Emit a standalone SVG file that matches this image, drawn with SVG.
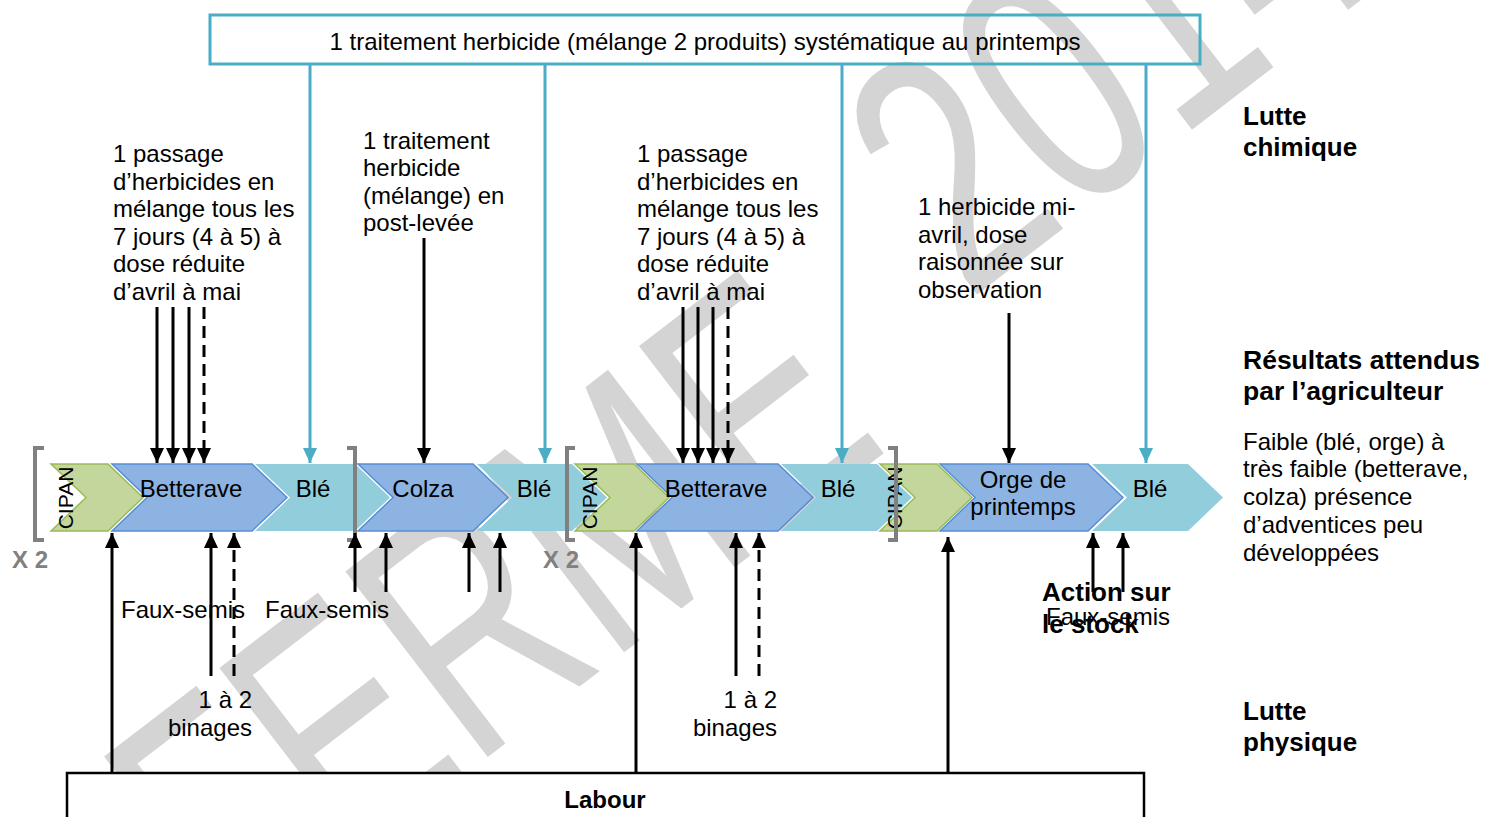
<svg xmlns="http://www.w3.org/2000/svg" width="1486" height="817" viewBox="0 0 1486 817">
<style>
text{font-family:"Liberation Sans",Arial,sans-serif;fill:#000}
.t{font-size:24px}
.b{font-size:26px;font-weight:bold}
.x2{font-size:24px;font-weight:bold;fill:#808080}
.cip{font-size:21px}
.blk{stroke:#000;stroke-width:3;fill:none}
.dash{stroke-dasharray:12 7}
.teal{stroke:#4bacc6;stroke-width:3;fill:none}
.ble{fill:#92cddc}
.bl{fill:#8db3e2;stroke:#558ed5;stroke-width:1.5}
.gr{fill:#c3d69b;stroke:#9bbb59;stroke-width:1.5}
.br{stroke:#808080;stroke-width:4;fill:none}
.wm{font-size:340px;fill:#d4d4d4}
</style>
<defs>
<marker id="ah" markerUnits="userSpaceOnUse" markerWidth="16" markerHeight="16" refX="15" refY="8" orient="auto"><path d="M0,1 L15,8 L0,15 z" fill="#000"/></marker>
<marker id="aht" markerUnits="userSpaceOnUse" markerWidth="16" markerHeight="16" refX="15" refY="8" orient="auto"><path d="M0,1 L15,8 L0,15 z" fill="#4bacc6"/></marker>
</defs>
<rect width="1486" height="817" fill="#fff"/>
<g id="watermark">
<text class="wm" transform="translate(231,954) rotate(-37.5) scale(0.7,1)">FERME<tspan dx="212" dy="-69">2014</tspan></text>
</g>
<g id="top-box">
<rect x="210" y="15" width="990" height="49" fill="none" stroke="#4bacc6" stroke-width="3"/>
<text class="t" x="705" y="50" text-anchor="middle">1 traitement herbicide (mélange 2 produits) systématique au printemps</text>
</g>
<g id="rotation">
<polygon class="gr" points="51,464 108,464 143,497.5 108,531 51,531 86,497.5"/>
<polygon class="bl" points="112,464 252,464 287,497.5 252,531 112,531 147,497.5"/>
<polygon class="ble" points="255,464 355,464 390,497.5 355,531 255,531 290,497.5"/>
<polygon class="bl" points="358,464 473,464 508,497.5 473,531 358,531 393,497.5"/>
<polygon class="ble" points="477,464 572,464 607,497.5 572,531 477,531 512,497.5"/>
<polygon class="gr" points="575,464 634,464 669,497.5 634,531 575,531 610,497.5"/>
<polygon class="bl" points="637,464 778,464 813,497.5 778,531 637,531 672,497.5"/>
<polygon class="ble" points="781,464 877,464 912,497.5 877,531 781,531 816,497.5"/>
<polygon class="gr" points="880,464 937,464 972,497.5 937,531 880,531 915,497.5"/>
<polygon class="bl" points="940,464 1088,464 1123,497.5 1088,531 940,531 975,497.5"/>
<polygon class="ble" points="1092,464 1188,464 1223,497.5 1188,531 1092,531 1127,497.5"/>
<text class="cip" transform="translate(73,498) rotate(-90)" text-anchor="middle">CIPAN</text>
<text class="cip" transform="translate(597,498) rotate(-90)" text-anchor="middle">CIPAN</text>
<text class="cip" transform="translate(902,498) rotate(-90)" text-anchor="middle">CIPAN</text>
<text class="t" x="191" y="497" text-anchor="middle">Betterave</text>
<text class="t" x="313" y="497" text-anchor="middle">Blé</text>
<text class="t" x="423" y="497" text-anchor="middle">Colza</text>
<text class="t" x="534" y="497" text-anchor="middle">Blé</text>
<text class="t" x="716" y="497" text-anchor="middle">Betterave</text>
<text class="t" x="838" y="497" text-anchor="middle">Blé</text>
<text class="t" x="1023" y="488" text-anchor="middle">Orge de</text>
<text class="t" x="1023" y="515" text-anchor="middle">printemps</text>
<text class="t" x="1150" y="497" text-anchor="middle">Blé</text>
</g>
<g id="brackets">
<path class="br" d="M44,448 H35 V540 H44"/>
<path class="br" d="M347,448 H355 V540 H347"/>
<path class="br" d="M575,448 H567 V540 H575"/>
<path class="br" d="M888,448 H896 V540 H888"/>
<text class="x2" x="12" y="568">X 2</text>
<text class="x2" x="543" y="568">X 2</text>
</g>
<g id="connectors">
<line class="teal" x1="310" y1="65" x2="310" y2="463" marker-end="url(#aht)"/>
<line class="teal" x1="545" y1="65" x2="545" y2="463" marker-end="url(#aht)"/>
<line class="teal" x1="842" y1="65" x2="842" y2="463" marker-end="url(#aht)"/>
<line class="teal" x1="1146" y1="65" x2="1146" y2="463" marker-end="url(#aht)"/>
<line class="blk" x1="157" y1="307" x2="157" y2="463" marker-end="url(#ah)"/>
<line class="blk" x1="173" y1="307" x2="173" y2="463" marker-end="url(#ah)"/>
<line class="blk" x1="189" y1="307" x2="189" y2="463" marker-end="url(#ah)"/>
<line class="blk dash" x1="204" y1="307" x2="204" y2="463" marker-end="url(#ah)"/>
<line class="blk" x1="424" y1="238" x2="424" y2="463" marker-end="url(#ah)"/>
<line class="blk" x1="683" y1="307" x2="683" y2="463" marker-end="url(#ah)"/>
<line class="blk" x1="698" y1="307" x2="698" y2="463" marker-end="url(#ah)"/>
<line class="blk" x1="713" y1="307" x2="713" y2="463" marker-end="url(#ah)"/>
<line class="blk dash" x1="728" y1="307" x2="728" y2="463" marker-end="url(#ah)"/>
<line class="blk" x1="1009" y1="313" x2="1009" y2="463" marker-end="url(#ah)"/>
<line class="blk" x1="112" y1="773" x2="112" y2="533" marker-end="url(#ah)"/>
<line class="blk" x1="211" y1="676" x2="211" y2="533" marker-end="url(#ah)"/>
<line class="blk dash" x1="234" y1="676" x2="234" y2="533" marker-end="url(#ah)"/>
<line class="blk" x1="355" y1="592" x2="355" y2="533" marker-end="url(#ah)"/>
<line class="blk" x1="386" y1="592" x2="386" y2="533" marker-end="url(#ah)"/>
<line class="blk" x1="469" y1="592" x2="469" y2="533" marker-end="url(#ah)"/>
<line class="blk" x1="500" y1="592" x2="500" y2="533" marker-end="url(#ah)"/>
<line class="blk" x1="636" y1="773" x2="636" y2="533" marker-end="url(#ah)"/>
<line class="blk" x1="736" y1="676" x2="736" y2="533" marker-end="url(#ah)"/>
<line class="blk dash" x1="759" y1="676" x2="759" y2="533" marker-end="url(#ah)"/>
<line class="blk" x1="948" y1="773" x2="948" y2="537" marker-end="url(#ah)"/>
<line class="blk" x1="1093" y1="592" x2="1093" y2="533" marker-end="url(#ah)"/>
<line class="blk" x1="1123" y1="592" x2="1123" y2="533" marker-end="url(#ah)"/>
</g>
<g id="label-betterave1">
<text class="t" x="113" y="162">1 passage</text>
<text class="t" x="113" y="189.6">d’herbicides en</text>
<text class="t" x="113" y="217.2">mélange tous les</text>
<text class="t" x="113" y="244.8">7 jours (4 à 5) à</text>
<text class="t" x="113" y="272.4">dose réduite</text>
<text class="t" x="113" y="300">d’avril à mai</text>
</g>
<g id="label-colza">
<text class="t" x="363" y="149">1 traitement</text>
<text class="t" x="363" y="176">herbicide</text>
<text class="t" x="363" y="204">(mélange) en</text>
<text class="t" x="363" y="231">post-levée</text>
</g>
<g id="label-betterave2">
<text class="t" x="637" y="162">1 passage</text>
<text class="t" x="637" y="189.6">d’herbicides en</text>
<text class="t" x="637" y="217.2">mélange tous les</text>
<text class="t" x="637" y="244.8">7 jours (4 à 5) à</text>
<text class="t" x="637" y="272.4">dose réduite</text>
<text class="t" x="637" y="300">d’avril à mai</text>
</g>
<g id="label-orge">
<text class="t" x="918" y="215">1 herbicide mi-</text>
<text class="t" x="918" y="243">avril, dose</text>
<text class="t" x="918" y="270">raisonnée sur</text>
<text class="t" x="918" y="298">observation</text>
</g>
<g id="labels-bottom">
<text class="t" x="121" y="618">Faux-semis</text>
<text class="t" x="265" y="618">Faux-semis</text>
<text class="t" x="252" y="708" text-anchor="end">1 à 2</text>
<text class="t" x="252" y="736" text-anchor="end">binages</text>
<text class="t" x="777" y="708" text-anchor="end">1 à 2</text>
<text class="t" x="777" y="736" text-anchor="end">binages</text>
<text class="t" x="1046" y="625">Faux-semis</text>
<text class="b" x="1042" y="601">Action sur</text>
<text class="b" x="1042" y="633">le stock</text>
</g>
<g id="labour">
<rect x="67" y="773" width="1077" height="60" fill="#fff" stroke="#000" stroke-width="2.5"/>
<text x="605" y="808" text-anchor="middle" style="font-size:24px;font-weight:bold">Labour</text>
</g>
<g id="legend">
<text class="b" x="1243" y="125">Lutte</text>
<text class="b" x="1243" y="156">chimique</text>
<text class="b" x="1243" y="369" style="font-size:26.5px">Résultats attendus</text>
<text class="b" x="1243" y="400" style="font-size:26.5px">par l’agriculteur</text>
<text class="t" x="1243" y="450">Faible (blé, orge) à</text>
<text class="t" x="1243" y="477">très faible (betterave,</text>
<text class="t" x="1243" y="505">colza) présence</text>
<text class="t" x="1243" y="533">d’adventices peu</text>
<text class="t" x="1243" y="561">développées</text>
<text class="b" x="1243" y="720">Lutte</text>
<text class="b" x="1243" y="751">physique</text>
</g>
</svg>
